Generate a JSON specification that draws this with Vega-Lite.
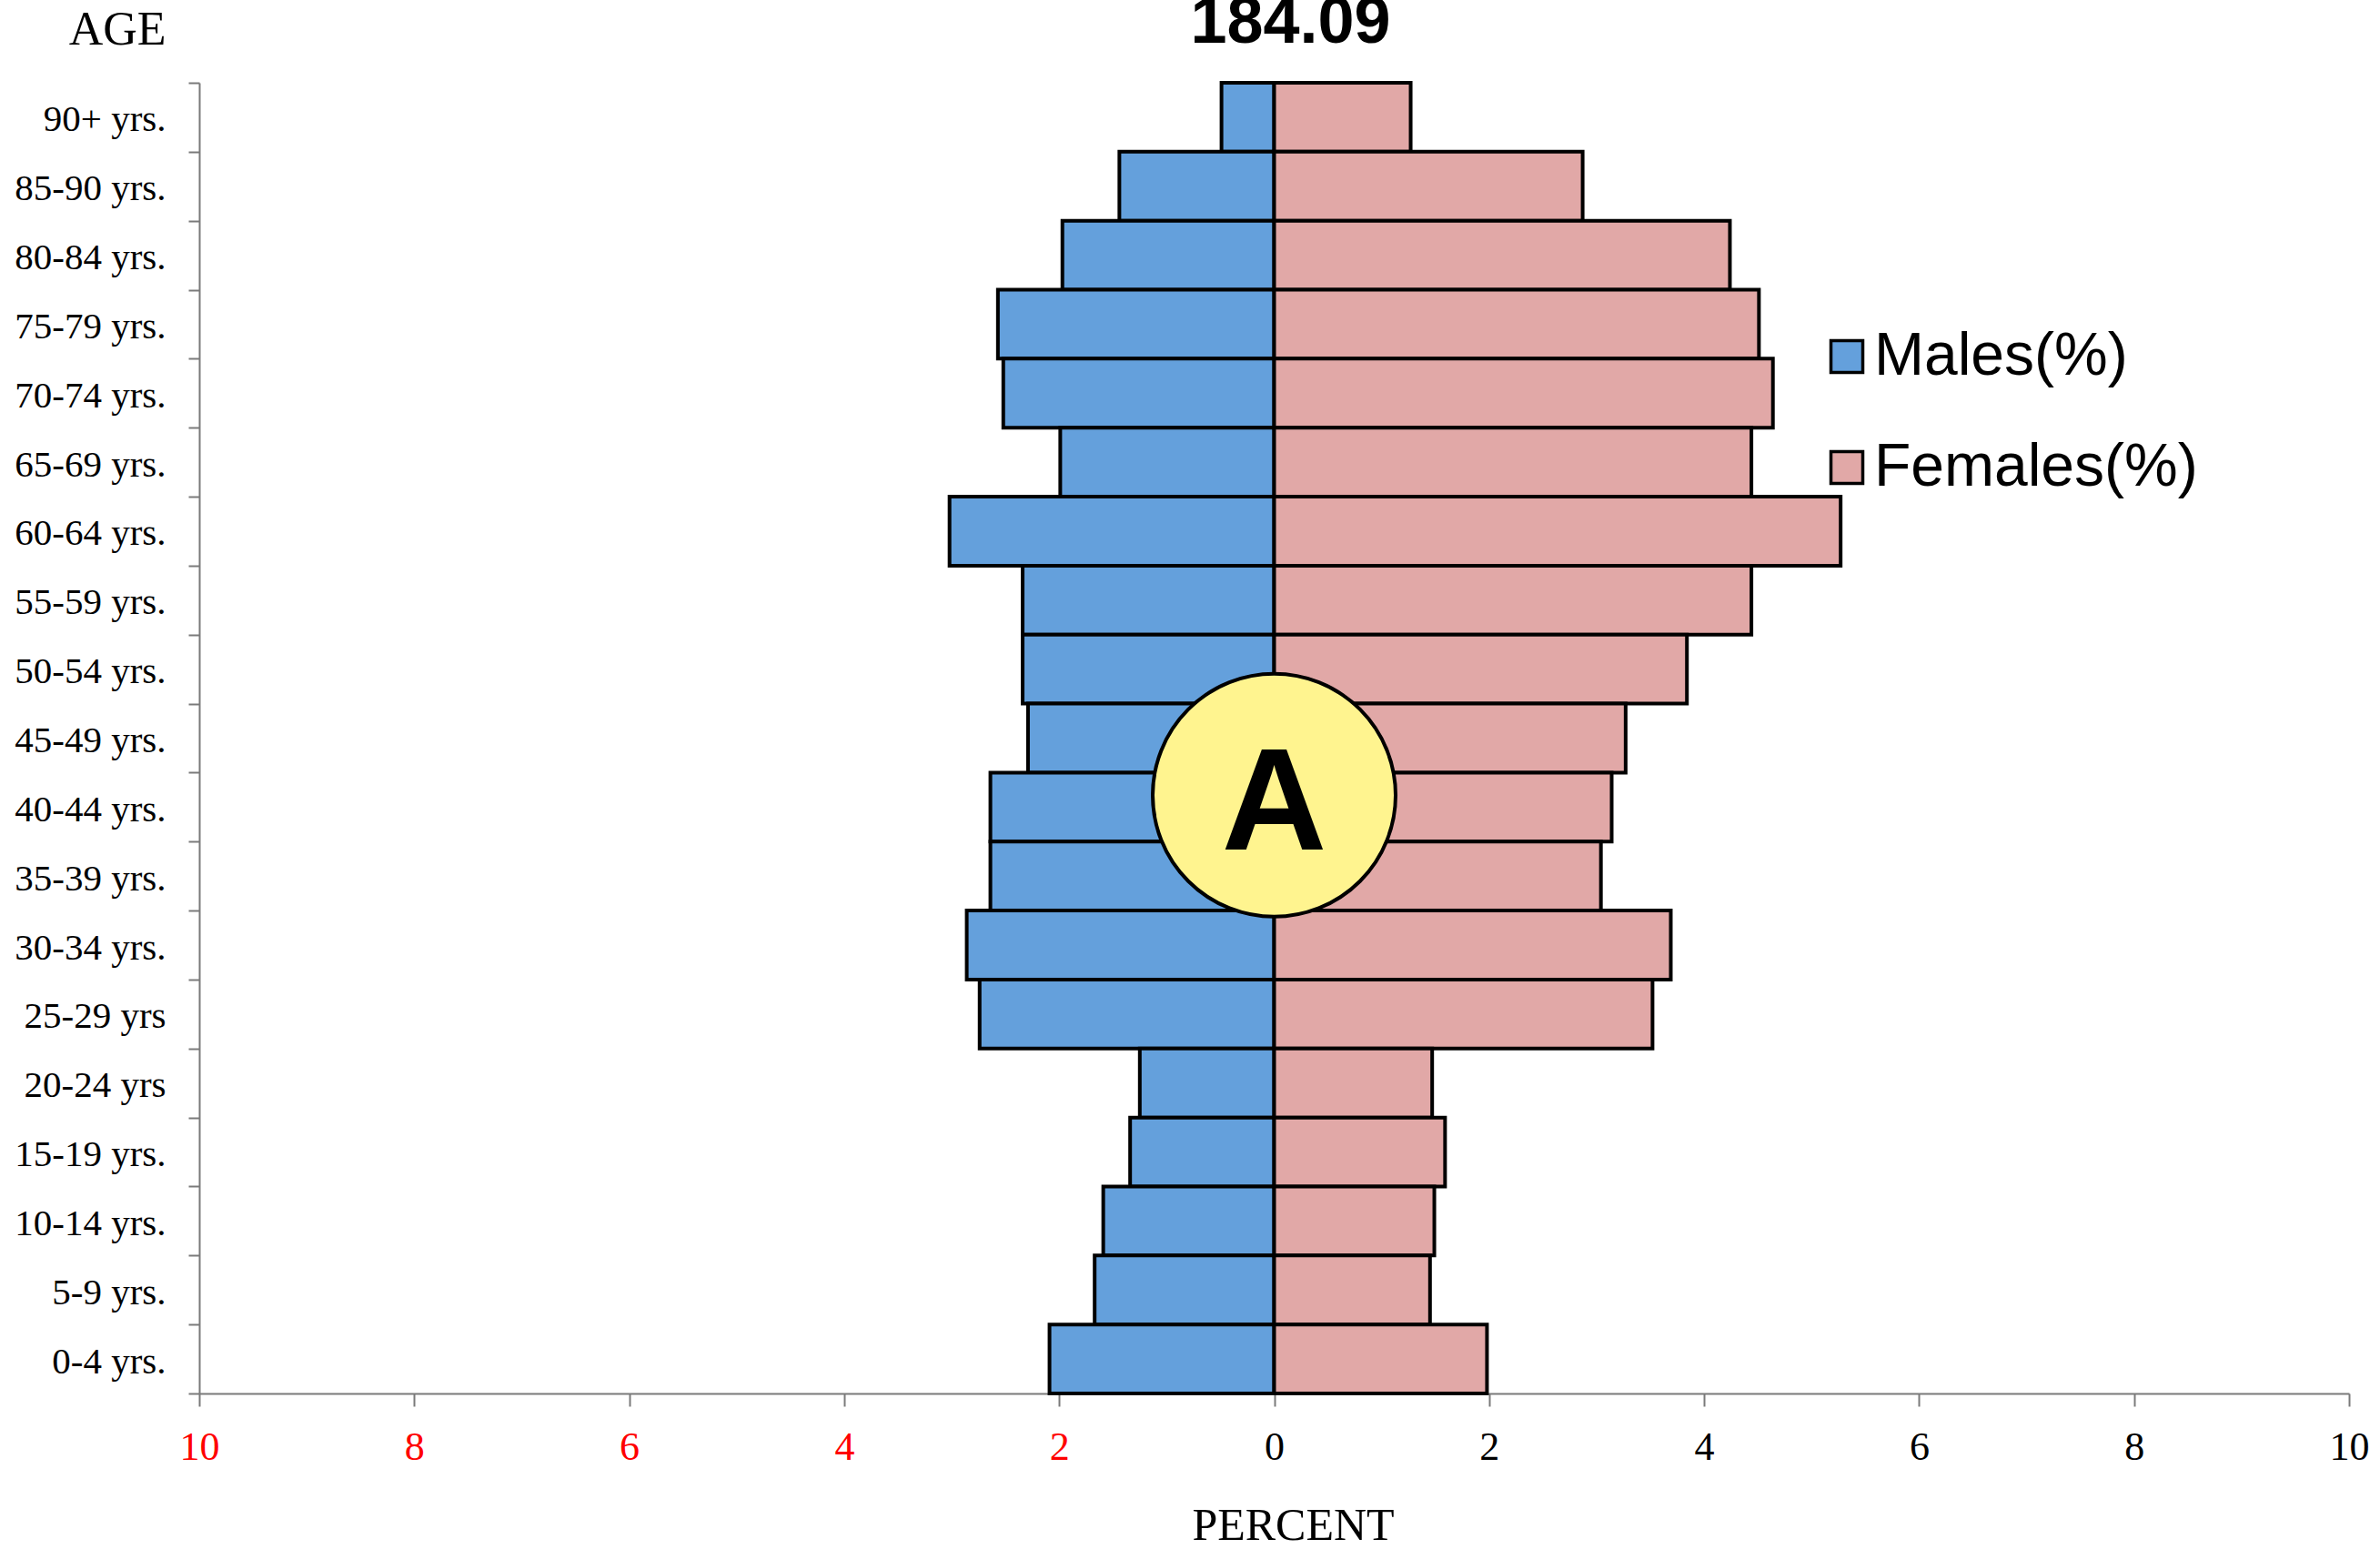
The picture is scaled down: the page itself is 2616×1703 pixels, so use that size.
{
  "$schema": "https://vega.github.io/schema/vega-lite/v6.json",
  "autosize": {"type": "none"},
  "padding": {"left": 219, "top": 91, "right": 34, "bottom": 171},
  "width": 2363,
  "height": 1441,
  "background": "white",
  "title": {
    "text": "184.09",
    "font": "Liberation Sans",
    "fontSize": 72,
    "fontWeight": "bold",
    "color": "black",
    "anchor": "middle",
    "baseline": "alphabetic",
    "dx": 18,
    "offset": -113
  },
  "datasets": {
    "pop": [
      {"age": "90+ yrs.", "sex": "Males(%)", "percent": -0.49},
      {"age": "85-90 yrs.", "sex": "Males(%)", "percent": -1.44},
      {"age": "80-84 yrs.", "sex": "Males(%)", "percent": -1.97},
      {"age": "75-79 yrs.", "sex": "Males(%)", "percent": -2.57},
      {"age": "70-74 yrs.", "sex": "Males(%)", "percent": -2.52},
      {"age": "65-69 yrs.", "sex": "Males(%)", "percent": -1.99},
      {"age": "60-64 yrs.", "sex": "Males(%)", "percent": -3.02},
      {"age": "55-59 yrs.", "sex": "Males(%)", "percent": -2.34},
      {"age": "50-54 yrs.", "sex": "Males(%)", "percent": -2.34},
      {"age": "45-49 yrs.", "sex": "Males(%)", "percent": -2.29},
      {"age": "40-44 yrs.", "sex": "Males(%)", "percent": -2.64},
      {"age": "35-39 yrs.", "sex": "Males(%)", "percent": -2.64},
      {"age": "30-34 yrs.", "sex": "Males(%)", "percent": -2.86},
      {"age": "25-29 yrs", "sex": "Males(%)", "percent": -2.74},
      {"age": "20-24 yrs", "sex": "Males(%)", "percent": -1.25},
      {"age": "15-19 yrs.", "sex": "Males(%)", "percent": -1.34},
      {"age": "10-14 yrs.", "sex": "Males(%)", "percent": -1.59},
      {"age": "5-9 yrs.", "sex": "Males(%)", "percent": -1.67},
      {"age": "0-4 yrs.", "sex": "Males(%)", "percent": -2.09},
      {"age": "90+ yrs.", "sex": "Females(%)", "percent": 1.27},
      {"age": "85-90 yrs.", "sex": "Females(%)", "percent": 2.87},
      {"age": "80-84 yrs.", "sex": "Females(%)", "percent": 4.24},
      {"age": "75-79 yrs.", "sex": "Females(%)", "percent": 4.51},
      {"age": "70-74 yrs.", "sex": "Females(%)", "percent": 4.64},
      {"age": "65-69 yrs.", "sex": "Females(%)", "percent": 4.44},
      {"age": "60-64 yrs.", "sex": "Females(%)", "percent": 5.27},
      {"age": "55-59 yrs.", "sex": "Females(%)", "percent": 4.44},
      {"age": "50-54 yrs.", "sex": "Females(%)", "percent": 3.84},
      {"age": "45-49 yrs.", "sex": "Females(%)", "percent": 3.27},
      {"age": "40-44 yrs.", "sex": "Females(%)", "percent": 3.14},
      {"age": "35-39 yrs.", "sex": "Females(%)", "percent": 3.04},
      {"age": "30-34 yrs.", "sex": "Females(%)", "percent": 3.69},
      {"age": "25-29 yrs", "sex": "Females(%)", "percent": 3.52},
      {"age": "20-24 yrs", "sex": "Females(%)", "percent": 1.47},
      {"age": "15-19 yrs.", "sex": "Females(%)", "percent": 1.59},
      {"age": "10-14 yrs.", "sex": "Females(%)", "percent": 1.49},
      {"age": "5-9 yrs.", "sex": "Females(%)", "percent": 1.45},
      {"age": "0-4 yrs.", "sex": "Females(%)", "percent": 1.98}
    ],
    "marker": [
      {"label": "A", "age": "40-44 yrs.", "percent": 0}
    ]
  },
  "config": {
    "view": {"stroke": null},
    "axis": {"grid": false}
  },
  "layer": [
    {
      "data": {"name": "pop"},
      "mark": {"type": "bar", "stroke": "black", "strokeWidth": 4, "strokeJoin": "miter"},
      "encoding": {
        "y": {
          "field": "age",
          "type": "nominal",
          "sort": null,
          "scale": {"domain": ["90+ yrs.", "85-90 yrs.", "80-84 yrs.", "75-79 yrs.", "70-74 yrs.", "65-69 yrs.", "60-64 yrs.", "55-59 yrs.", "50-54 yrs.", "45-49 yrs.", "40-44 yrs.", "35-39 yrs.", "30-34 yrs.", "25-29 yrs", "20-24 yrs", "15-19 yrs.", "10-14 yrs.", "5-9 yrs.", "0-4 yrs."], "paddingInner": 0, "paddingOuter": 0},
          "axis": {
            "title": "AGE",
            "titleFont": "Liberation Serif",
            "titleFontSize": 52,
            "titleFontWeight": "normal",
            "titleColor": "black",
            "titleAngle": 0,
            "titleAlign": "right",
            "titleBaseline": "alphabetic",
            "titleX": -37,
            "titleY": -43,
            "labelFont": "Liberation Serif",
            "labelFontSize": 41,
            "labelColor": "black",
            "labelPadding": 25,
            "labelOffset": 3,
            "tickBand": "extent",
            "tickSize": 12,
            "tickColor": "#7a7a7a",
            "tickWidth": 2,
            "domainColor": "#7a7a7a",
            "domainWidth": 2
          }
        },
        "x": {
          "field": "percent",
          "type": "quantitative",
          "scale": {"domain": [-10, 10], "nice": false},
          "axis": {
            "title": "PERCENT",
            "titleFont": "Liberation Serif",
            "titleFontSize": 50,
            "titleFontWeight": "normal",
            "titleColor": "black",
            "titleBaseline": "alphabetic",
            "titleX": 1202,
            "titleY": 160,
            "values": [-10, -8, -6, -4, -2, 0, 2, 4, 6, 8, 10],
            "labelExpr": "abs(datum.value)",
            "labelFlush": false,
            "labelFont": "Liberation Serif",
            "labelFontSize": 44,
            "labelColor": {"condition": {"test": "datum.value < 0", "value": "#ff0000"}, "value": "black"},
            "labelPadding": 23,
            "tickSize": 14,
            "tickColor": "#7a7a7a",
            "tickWidth": 2,
            "domainColor": "#7a7a7a",
            "domainWidth": 2
          }
        },
        "color": {
          "field": "sex",
          "type": "nominal",
          "scale": {"domain": ["Males(%)", "Females(%)"], "range": ["#64a0dc", "#e1a8a7"]},
          "legend": {
            "title": null,
            "orient": "none",
            "legendX": 1778,
            "legendY": 268,
            "padding": 0,
            "symbolType": "square",
            "symbolSize": 1225,
            "symbolStrokeColor": "black",
            "symbolStrokeWidth": 3.5,
            "symbolOpacity": 1,
            "labelFont": "Liberation Sans",
            "labelFontSize": 66,
            "labelColor": "black",
            "labelOffset": -3,
            "labelLimit": 0,
            "rowPadding": 56
          }
        }
      }
    },
    {
      "data": {"name": "marker"},
      "mark": {"type": "point", "shape": "circle", "filled": true, "fill": "#fff48f", "stroke": "black", "strokeWidth": 4, "size": 71300, "opacity": 1, "yOffset": -13},
      "encoding": {
        "x": {"field": "percent", "type": "quantitative"},
        "y": {"field": "age", "type": "nominal", "sort": null}
      }
    },
    {
      "data": {"name": "marker"},
      "mark": {"type": "text", "font": "Liberation Sans", "fontWeight": "bold", "fontSize": 160, "color": "black", "align": "center", "baseline": "alphabetic", "yOffset": 47},
      "encoding": {
        "x": {"field": "percent", "type": "quantitative"},
        "y": {"field": "age", "type": "nominal", "sort": null},
        "text": {"field": "label"}
      }
    }
  ]
}
